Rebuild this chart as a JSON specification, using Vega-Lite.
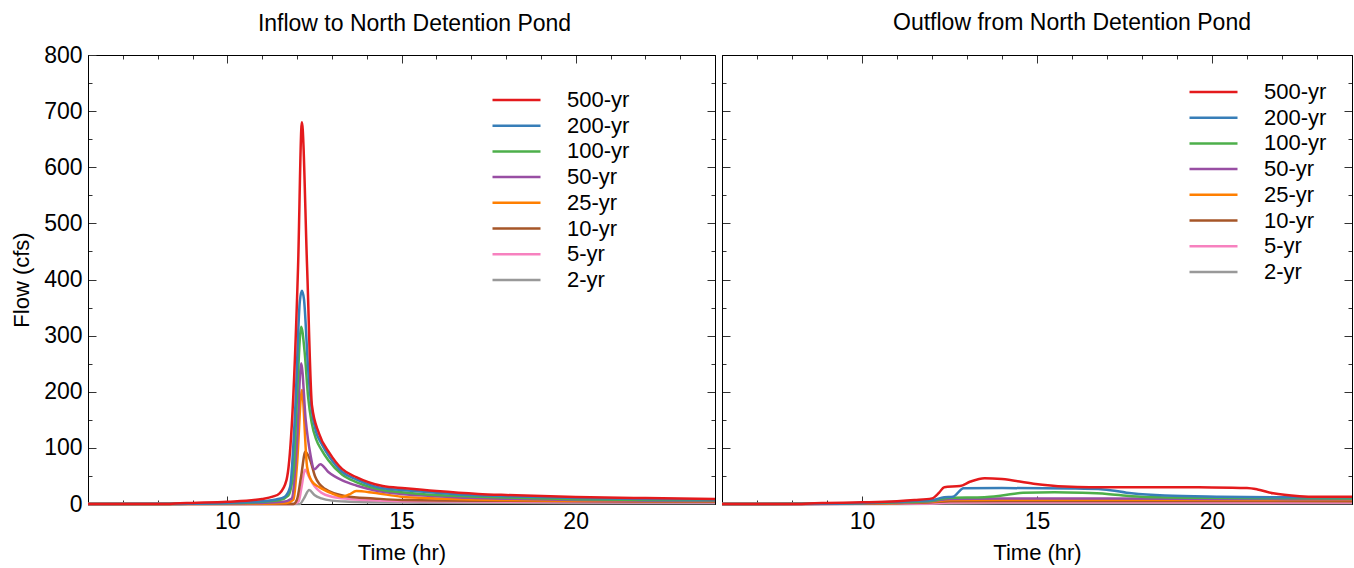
{
  "$schema": "https://vega.github.io/schema/vega-lite/v6.json",
  "padding": {"left": 10, "top": 11, "right": 2, "bottom": 2},
  "autosize": {"type": "pad"},
  "background": "white",
  "config": {
    "font": "Liberation Sans",
    "view": {"stroke": "black", "strokeWidth": 1},
    "axis": {"grid": false, "labelFontSize": 23, "titleFontSize": 22, "titleFontWeight": "normal", "labelColor": "black", "titleColor": "black", "tickColor": "#333333", "domainColor": "black", "labelOverlap": false, "labelFlush": false},
    "title": {"fontSize": 23, "fontWeight": "normal", "color": "black"},
    "legend": {"labelFontSize": 22, "labelColor": "black"},
    "concat": {"spacing": -5}
  },
  "datasets": {
    "inflow": [
      {"s":"2-yr","t":6,"v":0},{"s":"2-yr","t":12.08,"v":0},{"s":"2-yr","t":12.2,"v":10},{"s":"2-yr","t":12.35,"v":25},{"s":"2-yr","t":12.5,"v":16},{"s":"2-yr","t":12.7,"v":10},{"s":"2-yr","t":13,"v":6},{"s":"2-yr","t":13.5,"v":4},{"s":"2-yr","t":14,"v":3},{"s":"2-yr","t":15,"v":2.5},{"s":"2-yr","t":17,"v":2},{"s":"2-yr","t":20,"v":1.5},{"s":"2-yr","t":24,"v":1.2},
      {"s":"5-yr","t":6,"v":0},{"s":"5-yr","t":11.9,"v":0},{"s":"5-yr","t":12.05,"v":5},{"s":"5-yr","t":12.13,"v":30},{"s":"5-yr","t":12.23,"v":61},{"s":"5-yr","t":12.35,"v":48},{"s":"5-yr","t":12.5,"v":32},{"s":"5-yr","t":12.7,"v":20},{"s":"5-yr","t":13,"v":13},{"s":"5-yr","t":13.5,"v":9},{"s":"5-yr","t":14,"v":7},{"s":"5-yr","t":15,"v":5},{"s":"5-yr","t":17,"v":4.5},{"s":"5-yr","t":20,"v":3.5},{"s":"5-yr","t":24,"v":3},
      {"s":"10-yr","t":6,"v":0},{"s":"10-yr","t":11.9,"v":0},{"s":"10-yr","t":12.0,"v":8},{"s":"10-yr","t":12.12,"v":50},{"s":"10-yr","t":12.24,"v":93},{"s":"10-yr","t":12.38,"v":78},{"s":"10-yr","t":12.52,"v":49},{"s":"10-yr","t":12.8,"v":27},{"s":"10-yr","t":13.4,"v":14},{"s":"10-yr","t":14.2,"v":10},{"s":"10-yr","t":15,"v":7},{"s":"10-yr","t":17,"v":6},{"s":"10-yr","t":20,"v":5},{"s":"10-yr","t":24,"v":4},
      {"s":"25-yr","t":6,"v":0},{"s":"25-yr","t":11,"v":0.5},{"s":"25-yr","t":11.7,"v":2},{"s":"25-yr","t":11.9,"v":8},{"s":"25-yr","t":12.0,"v":70},{"s":"25-yr","t":12.14,"v":203},{"s":"25-yr","t":12.29,"v":66},{"s":"25-yr","t":12.43,"v":40},{"s":"25-yr","t":12.64,"v":30},{"s":"25-yr","t":13.0,"v":19},{"s":"25-yr","t":13.3,"v":13},{"s":"25-yr","t":13.5,"v":17},{"s":"25-yr","t":13.7,"v":23},{"s":"25-yr","t":14.2,"v":20},{"s":"25-yr","t":15,"v":13},{"s":"25-yr","t":16,"v":10},{"s":"25-yr","t":17,"v":8},{"s":"25-yr","t":18,"v":7},{"s":"25-yr","t":20,"v":6},{"s":"25-yr","t":22,"v":5.5},{"s":"25-yr","t":24,"v":5},
      {"s":"50-yr","t":6,"v":0},{"s":"50-yr","t":10,"v":1},{"s":"50-yr","t":11,"v":2},{"s":"50-yr","t":11.6,"v":4},{"s":"50-yr","t":11.85,"v":10},{"s":"50-yr","t":12.0,"v":110},{"s":"50-yr","t":12.12,"v":251},{"s":"50-yr","t":12.25,"v":150},{"s":"50-yr","t":12.38,"v":90},{"s":"50-yr","t":12.5,"v":62},{"s":"50-yr","t":12.67,"v":71},{"s":"50-yr","t":12.9,"v":57},{"s":"50-yr","t":13.3,"v":42},{"s":"50-yr","t":13.7,"v":33},{"s":"50-yr","t":14.46,"v":22},{"s":"50-yr","t":15,"v":18},{"s":"50-yr","t":16,"v":14},{"s":"50-yr","t":17,"v":11},{"s":"50-yr","t":18,"v":9.5},{"s":"50-yr","t":20,"v":7},{"s":"50-yr","t":22,"v":6},{"s":"50-yr","t":24,"v":5.5},
      {"s":"100-yr","t":6,"v":0},{"s":"100-yr","t":9,"v":0.5},{"s":"100-yr","t":10,"v":1.5},{"s":"100-yr","t":11,"v":4},{"s":"100-yr","t":11.5,"v":7},{"s":"100-yr","t":11.75,"v":15},{"s":"100-yr","t":11.9,"v":60},{"s":"100-yr","t":12.0,"v":190},{"s":"100-yr","t":12.12,"v":316},{"s":"100-yr","t":12.22,"v":270},{"s":"100-yr","t":12.32,"v":190},{"s":"100-yr","t":12.42,"v":145},{"s":"100-yr","t":12.55,"v":115},{"s":"100-yr","t":12.7,"v":97},{"s":"100-yr","t":12.9,"v":78},{"s":"100-yr","t":13.3,"v":52},{"s":"100-yr","t":13.7,"v":39},{"s":"100-yr","t":14.46,"v":25},{"s":"100-yr","t":15,"v":21},{"s":"100-yr","t":16,"v":16},{"s":"100-yr","t":17,"v":13.5},{"s":"100-yr","t":18,"v":11.5},{"s":"100-yr","t":20,"v":8.5},{"s":"100-yr","t":22,"v":7},{"s":"100-yr","t":24,"v":6.5},
      {"s":"200-yr","t":6,"v":0},{"s":"200-yr","t":8.5,"v":0},{"s":"200-yr","t":9,"v":0.5},{"s":"200-yr","t":10,"v":2},{"s":"200-yr","t":11,"v":5},{"s":"200-yr","t":11.4,"v":8},{"s":"200-yr","t":11.65,"v":13},{"s":"200-yr","t":11.8,"v":30},{"s":"200-yr","t":11.95,"v":170},{"s":"200-yr","t":12.08,"v":360},{"s":"200-yr","t":12.14,"v":380},{"s":"200-yr","t":12.2,"v":365},{"s":"200-yr","t":12.32,"v":240},{"s":"200-yr","t":12.43,"v":165},{"s":"200-yr","t":12.55,"v":128},{"s":"200-yr","t":12.7,"v":108},{"s":"200-yr","t":12.93,"v":84},{"s":"200-yr","t":13.3,"v":57},{"s":"200-yr","t":13.7,"v":44},{"s":"200-yr","t":14.46,"v":28},{"s":"200-yr","t":15,"v":25},{"s":"200-yr","t":16,"v":20},{"s":"200-yr","t":17,"v":16},{"s":"200-yr","t":18,"v":14},{"s":"200-yr","t":20,"v":10.5},{"s":"200-yr","t":22,"v":9},{"s":"200-yr","t":24,"v":8},
      {"s":"500-yr","t":6,"v":0},{"s":"500-yr","t":8.3,"v":0},{"s":"500-yr","t":8.5,"v":1},{"s":"500-yr","t":9,"v":2},{"s":"500-yr","t":10,"v":4},{"s":"500-yr","t":11,"v":9},{"s":"500-yr","t":11.3,"v":13},{"s":"500-yr","t":11.5,"v":19},{"s":"500-yr","t":11.7,"v":43},{"s":"500-yr","t":11.85,"v":140},{"s":"500-yr","t":12.03,"v":422},{"s":"500-yr","t":12.14,"v":680},{"s":"500-yr","t":12.29,"v":422},{"s":"500-yr","t":12.43,"v":175},{"s":"500-yr","t":12.63,"v":126},{"s":"500-yr","t":12.93,"v":91},{"s":"500-yr","t":13.3,"v":62},{"s":"500-yr","t":13.7,"v":48},{"s":"500-yr","t":14.46,"v":32},{"s":"500-yr","t":15.1,"v":28},{"s":"500-yr","t":16,"v":23},{"s":"500-yr","t":17.2,"v":18},{"s":"500-yr","t":18,"v":16},{"s":"500-yr","t":20,"v":12.5},{"s":"500-yr","t":22,"v":10.5},{"s":"500-yr","t":24,"v":9}
    ],
    "outflow": [
      {"s":"2-yr","t":6,"v":0},{"s":"2-yr","t":11,"v":0},{"s":"2-yr","t":12,"v":0.5},{"s":"2-yr","t":12.5,"v":1},{"s":"2-yr","t":14,"v":1.5},{"s":"2-yr","t":18,"v":1.5},{"s":"2-yr","t":24,"v":1.2},
      {"s":"5-yr","t":6,"v":0},{"s":"5-yr","t":11,"v":0.3},{"s":"5-yr","t":12,"v":1},{"s":"5-yr","t":12.5,"v":2.5},{"s":"5-yr","t":14,"v":3},{"s":"5-yr","t":18,"v":3},{"s":"5-yr","t":24,"v":2.8},
      {"s":"10-yr","t":6,"v":0},{"s":"10-yr","t":10,"v":0.5},{"s":"10-yr","t":11,"v":1.5},{"s":"10-yr","t":12,"v":3},{"s":"10-yr","t":12.5,"v":5},{"s":"10-yr","t":14,"v":5.5},{"s":"10-yr","t":18,"v":5.5},{"s":"10-yr","t":24,"v":5},
      {"s":"25-yr","t":6,"v":0},{"s":"25-yr","t":10,"v":1},{"s":"25-yr","t":11,"v":2},{"s":"25-yr","t":12,"v":4},{"s":"25-yr","t":12.5,"v":7},{"s":"25-yr","t":14,"v":7.5},{"s":"25-yr","t":18,"v":7.5},{"s":"25-yr","t":24,"v":7},
      {"s":"50-yr","t":6,"v":0},{"s":"50-yr","t":9.5,"v":0.5},{"s":"50-yr","t":10,"v":1},{"s":"50-yr","t":11,"v":2.5},{"s":"50-yr","t":12,"v":5},{"s":"50-yr","t":12.5,"v":9},{"s":"50-yr","t":14,"v":10},{"s":"50-yr","t":17,"v":10},{"s":"50-yr","t":20,"v":9},{"s":"50-yr","t":24,"v":8.5},
      {"s":"100-yr","t":6,"v":0},{"s":"100-yr","t":9,"v":0.5},{"s":"100-yr","t":10,"v":1.5},{"s":"100-yr","t":11,"v":3},{"s":"100-yr","t":12,"v":6},{"s":"100-yr","t":12.5,"v":11},{"s":"100-yr","t":13.5,"v":12},{"s":"100-yr","t":14,"v":15},{"s":"100-yr","t":14.6,"v":20},{"s":"100-yr","t":15.5,"v":21},{"s":"100-yr","t":16.3,"v":20},{"s":"100-yr","t":17,"v":18},{"s":"100-yr","t":17.7,"v":14},{"s":"100-yr","t":18.5,"v":12},{"s":"100-yr","t":20,"v":11},{"s":"100-yr","t":24,"v":10},
      {"s":"200-yr","t":6,"v":0},{"s":"200-yr","t":9,"v":0.5},{"s":"200-yr","t":10,"v":2},{"s":"200-yr","t":11,"v":4},{"s":"200-yr","t":12,"v":7},{"s":"200-yr","t":12.35,"v":12},{"s":"200-yr","t":12.6,"v":13},{"s":"200-yr","t":12.9,"v":28},{"s":"200-yr","t":14,"v":28.5},{"s":"200-yr","t":16,"v":27.5},{"s":"200-yr","t":16.9,"v":26},{"s":"200-yr","t":17.7,"v":19},{"s":"200-yr","t":18.65,"v":15},{"s":"200-yr","t":20.2,"v":13},{"s":"200-yr","t":22,"v":12},{"s":"200-yr","t":24,"v":12},
      {"s":"500-yr","t":6,"v":0},{"s":"500-yr","t":8.2,"v":0},{"s":"500-yr","t":8.5,"v":1},{"s":"500-yr","t":9,"v":1.8},{"s":"500-yr","t":10,"v":3},{"s":"500-yr","t":11,"v":5},{"s":"500-yr","t":11.5,"v":7},{"s":"500-yr","t":12,"v":10},{"s":"500-yr","t":12.2,"v":20},{"s":"500-yr","t":12.35,"v":30},{"s":"500-yr","t":12.8,"v":32},{"s":"500-yr","t":13.1,"v":40},{"s":"500-yr","t":13.5,"v":46},{"s":"500-yr","t":14,"v":44.5},{"s":"500-yr","t":14.9,"v":36},{"s":"500-yr","t":15.8,"v":31},{"s":"500-yr","t":16.5,"v":30},{"s":"500-yr","t":18,"v":30},{"s":"500-yr","t":20,"v":29.5},{"s":"500-yr","t":21,"v":28.5},{"s":"500-yr","t":21.3,"v":26},{"s":"500-yr","t":21.75,"v":19},{"s":"500-yr","t":22.5,"v":14},{"s":"500-yr","t":23,"v":13},{"s":"500-yr","t":24,"v":13}
    ]
  },
  "hconcat": [
    {
      "title": {"text": "Inflow to North Detention Pond", "dx": 13, "offset": 8},
      "width": 627,
      "height": 449,
      "data": {"name": "inflow"},
      "layer": [
        {
          "mark": {"type": "line", "strokeWidth": 2.5, "interpolate": "monotone"},
          "encoding": {
            "x": {"field": "t", "type": "quantitative", "scale": {"domain": [6, 24], "nice": false, "zero": false},
              "axis": {"orient": "bottom", "title": "Time (hr)", "values": [7,8,9,10,11,12,13,14,15,16,17,18,19,20,21,22,23], "labelExpr": "datum.value % 5 === 0 ? datum.label : ''", "tickSize": {"condition": {"test": "datum.value % 5 === 0", "value": -8}, "value": -4}, "labelPadding": 14, "titlePadding": 5}},
            "y": {"field": "v", "type": "quantitative", "scale": {"domain": [0, 800], "nice": false},
              "axis": {"orient": "left", "title": "Flow (cfs)", "values": [0,50,100,150,200,250,300,350,400,450,500,550,600,650,700,750,800], "labelExpr": "datum.value % 100 === 0 ? datum.label : ''", "tickSize": {"condition": {"test": "datum.value % 100 === 0", "value": -8}, "value": -4}, "labelPadding": 14, "titlePadding": 10}},
            "color": {"field": "s", "type": "nominal",
              "scale": {"domain": ["500-yr","200-yr","100-yr","50-yr","25-yr","10-yr","5-yr","2-yr"], "range": ["#e41a1c","#377eb8","#4daf4a","#984ea3","#ff7f00","#a65628","#f781bf","#999999"]},
              "legend": {"orient": "none", "legendX": 403, "legendY": 34, "title": null, "symbolType": "stroke", "symbolSize": 2304, "symbolStrokeWidth": 2.5, "symbolOpacity": 1, "labelOffset": 25, "clipHeight": 22, "rowPadding": 3.7, "labelFontSize": 22}}
          }
        },
        {
          "mark": {"type": "point", "opacity": 0},
          "encoding": {
            "x": {"field": "t", "type": "quantitative", "scale": {"domain": [6, 24], "nice": false, "zero": false},
              "axis": {"orient": "top", "title": null, "labels": false, "minExtent": 0, "maxExtent": 0, "values": [7,8,9,10,11,12,13,14,15,16,17,18,19,20,21,22,23], "tickSize": {"condition": {"test": "datum.value % 5 === 0", "value": -8}, "value": -4}}},
            "y": {"field": "v", "type": "quantitative", "scale": {"domain": [0, 800], "nice": false},
              "axis": {"orient": "right", "title": null, "labels": false, "minExtent": 0, "maxExtent": 0, "values": [50,100,150,200,250,300,350,400,450,500,550,600,650,700,750], "tickSize": {"condition": {"test": "datum.value % 100 === 0", "value": -8}, "value": -4}}}
          }
        }
      ],
      "resolve": {"axis": {"x": "independent", "y": "independent"}}
    },
    {
      "title": {"text": "Outflow from North Detention Pond", "dx": 35, "offset": 19.5},
      "width": 630,
      "height": 449,
      "data": {"name": "outflow"},
      "layer": [
        {
          "mark": {"type": "line", "strokeWidth": 2.5, "interpolate": "monotone"},
          "encoding": {
            "x": {"field": "t", "type": "quantitative", "scale": {"domain": [6, 24], "nice": false, "zero": false},
              "axis": {"orient": "bottom", "title": "Time (hr)", "values": [7,8,9,10,11,12,13,14,15,16,17,18,19,20,21,22,23], "labelExpr": "datum.value % 5 === 0 ? datum.label : ''", "tickSize": {"condition": {"test": "datum.value % 5 === 0", "value": -8}, "value": -4}, "labelPadding": 14, "titlePadding": 5}},
            "y": {"field": "v", "type": "quantitative", "scale": {"domain": [0, 800], "nice": false},
              "axis": {"orient": "left", "title": null, "labels": false, "minExtent": 0, "maxExtent": 0, "values": [50,100,150,200,250,300,350,400,450,500,550,600,650,700,750], "tickSize": {"condition": {"test": "datum.value % 100 === 0", "value": -8}, "value": -4}}},
            "color": {"field": "s", "type": "nominal",
              "scale": {"domain": ["500-yr","200-yr","100-yr","50-yr","25-yr","10-yr","5-yr","2-yr"], "range": ["#e41a1c","#377eb8","#4daf4a","#984ea3","#ff7f00","#a65628","#f781bf","#999999"]},
              "legend": {"orient": "none", "legendX": 466, "legendY": 26, "title": null, "symbolType": "stroke", "symbolSize": 2304, "symbolStrokeWidth": 2.5, "symbolOpacity": 1, "labelOffset": 25, "clipHeight": 22, "rowPadding": 3.7, "labelFontSize": 22}}
          }
        },
        {
          "mark": {"type": "point", "opacity": 0},
          "encoding": {
            "x": {"field": "t", "type": "quantitative", "scale": {"domain": [6, 24], "nice": false, "zero": false},
              "axis": {"orient": "top", "title": null, "labels": false, "minExtent": 0, "maxExtent": 0, "values": [7,8,9,10,11,12,13,14,15,16,17,18,19,20,21,22,23], "tickSize": {"condition": {"test": "datum.value % 5 === 0", "value": -8}, "value": -4}}},
            "y": {"field": "v", "type": "quantitative", "scale": {"domain": [0, 800], "nice": false},
              "axis": {"orient": "right", "title": null, "labels": false, "minExtent": 0, "maxExtent": 0, "values": [50,100,150,200,250,300,350,400,450,500,550,600,650,700,750], "tickSize": {"condition": {"test": "datum.value % 100 === 0", "value": -8}, "value": -4}}}
          }
        }
      ],
      "resolve": {"axis": {"x": "independent", "y": "independent"}}
    }
  ],
  "resolve": {"scale": {"color": "independent"}, "legend": {"color": "independent"}}
}
